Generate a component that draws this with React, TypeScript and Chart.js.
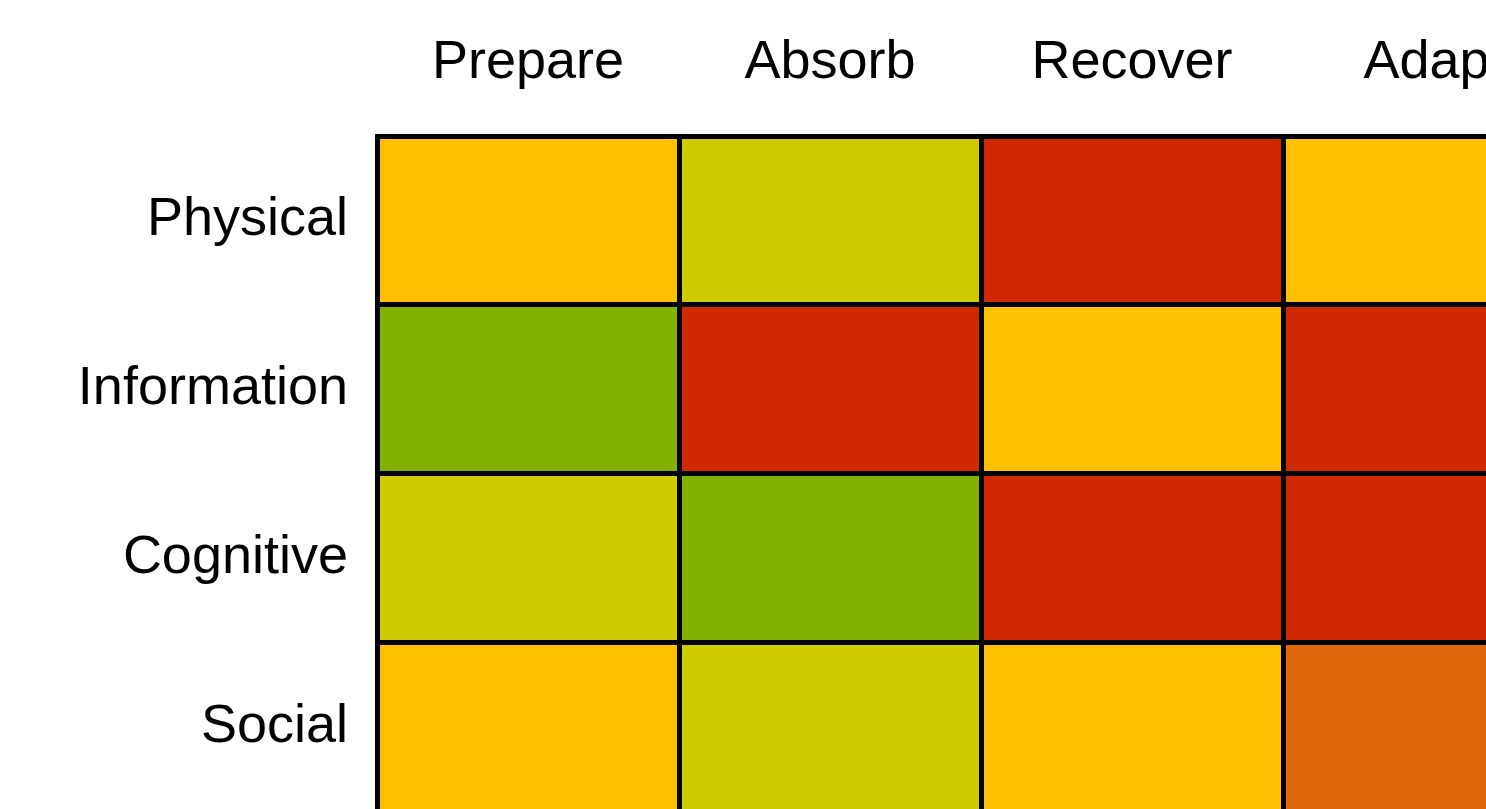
import React, { useEffect, useRef } from "react";
import { Chart, registerables } from "chart.js";

Chart.register(...registerables);

// Phases (columns) and domains (rows)
const phases = ["Prepare", "Absorb", "Recover", "Adapt"];
const domains = ["Physical", "Information", "Cognitive", "Social"];

// Rating level per cell: 1 = good (green) ... 5 = poor (red)
const physical = [3, 2, 5, 3];
const information = [1, 5, 3, 5];
const cognitive = [2, 1, 5, 5];
const social = [3, 2, 3, 4];
const levelsByDomain = [physical, information, cognitive, social];

// Colour for each level
const levelColors: Record<number, string> = {
  1: "#83B100",
  2: "#CECC00",
  3: "#FFC000",
  4: "#E1680A",
  5: "#D02900",
};

const FONT = { family: "'Liberation Sans', Arial, sans-serif", size: 54 };

export default function App() {
  const ref = useRef<HTMLCanvasElement | null>(null);

  useEffect(() => {
    if (!ref.current) return;
    const datasets = phases.map((phase, c) => ({
      label: phase,
      data: domains.map(() => [c, c + 1] as [number, number]),
      backgroundColor: domains.map((_, r) => levelColors[levelsByDomain[r][c]]),
      borderWidth: 0,
      grouped: false,
      categoryPercentage: 1,
      barPercentage: 1,
      xAxisID: "x",
      yAxisID: "y",
    }));

    const chart = new Chart(ref.current, {
      type: "bar",
      data: { labels: domains, datasets },
      options: {
        indexAxis: "y",
        responsive: false,
        animation: false,
        devicePixelRatio: 1,
        layout: { padding: { top: 0, left: 0, right: 15, bottom: 19 } },
        plugins: { legend: { display: false }, tooltip: { enabled: false } },
        scales: {
          x: {
            type: "linear",
            position: "bottom",
            min: 0,
            max: phases.length,
            ticks: { display: false, stepSize: 1 },
            grid: { color: "#000", lineWidth: 5, drawTicks: false, z: 1 },
            border: { display: true, color: "#000", width: 5, z: 1 },
            afterFit: (s: any) => {
              s.height = 0;
              s.paddingLeft = 0;
              s.paddingRight = 0;
            },
          },
          xTop: {
            type: "category",
            position: "top",
            labels: phases,
            offset: true,
            grid: { display: false, drawTicks: false },
            border: { display: false },
            ticks: { color: "#000", font: FONT, padding: 40, maxRotation: 0, autoSkip: false },
            afterFit: (s: any) => {
              s.height = 136;
              s.paddingLeft = 0;
              s.paddingRight = 0;
            },
          },
          y: {
            type: "category",
            position: "left",
            offset: true,
            grid: { offset: true, color: "#000", lineWidth: 5, drawTicks: false, z: 1 },
            border: { display: true, color: "#000", width: 5, z: 1 },
            ticks: { color: "#000", font: FONT, padding: 29, autoSkip: false },
            afterFit: (s: any) => {
              s.width = 377;
              s.paddingTop = 0;
              s.paddingBottom = 0;
            },
          },
        },
      },
    } as any);
    return () => chart.destroy();
  }, []);

  return (
    <div
      style={{
        position: "fixed",
        left: 0,
        top: 0,
        width: 1486,
        height: 809,
        overflow: "hidden",
        background: "#fff",
      }}
    >
      <canvas ref={ref} width={1600} height={830} style={{ display: "block" }} />
    </div>
  );
}
